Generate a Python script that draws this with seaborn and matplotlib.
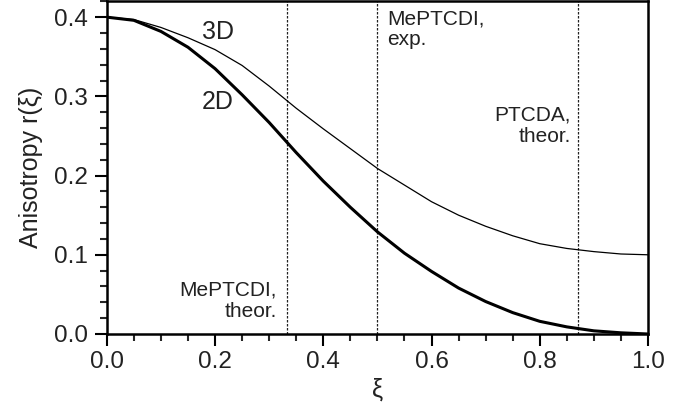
import matplotlib
matplotlib.use("Agg")
import matplotlib.pyplot as plt
import seaborn as sns
import pandas as pd
from matplotlib.ticker import MultipleLocator, FormatStrFormatter

# reduced transition-dipole variable
xi = [0.00, 0.05, 0.10, 0.15, 0.20, 0.25, 0.30, 0.35, 0.40, 0.45, 0.50,
      0.55, 0.60, 0.65, 0.70, 0.75, 0.80, 0.85, 0.90, 0.95, 1.00]
# anisotropy, planar (2D) orientation distribution
r_2d = [0.400, 0.396, 0.382, 0.362, 0.335, 0.302, 0.267, 0.229, 0.193, 0.160, 0.129,
        0.102, 0.079, 0.058, 0.041, 0.027, 0.016, 0.009, 0.004, 0.0015, 0.000]
# anisotropy, isotropic (3D) orientation distribution
r_3d = [0.400, 0.397, 0.387, 0.374, 0.359, 0.339, 0.313, 0.285, 0.259, 0.234, 0.209,
        0.188, 0.167, 0.150, 0.136, 0.124, 0.114, 0.108, 0.104, 0.101, 0.100]

markers_xi = [1/3, 0.5, 0.87]
marker_labels = ["MePTCDI,\ntheor.", "MePTCDI,\nexp.", "PTCDA,\ntheor."]

df = pd.DataFrame({"xi": xi * 2,
                   "r": r_2d + r_3d,
                   "model": ["2D"] * len(xi) + ["3D"] * len(xi)})

sns.set_theme(style="ticks")
plt.rcParams["font.family"] = ["Liberation Sans", "DejaVu Sans"]

TXT = "#222222"

fig = plt.figure(figsize=(6.73, 4.12), dpi=100)
ax = fig.add_axes([106.8 / 673, 1 - 334 / 412, 541.2 / 673, 332.7 / 412])

sns.lineplot(data=df, x="xi", y="r", hue="model", size="model",
             sizes={"2D": 2.2, "3D": 0.9},
             palette={"2D": "black", "3D": "black"},
             legend=False, ax=ax)

for xv in markers_xi:
    ax.axvline(xv, color="#222222", lw=0.9, ls=(0, (2.0, 1.2)), zorder=1)

ax.set_xlim(0, 1.0)
ax.set_ylim(0, 0.42)
ax.xaxis.set_major_locator(MultipleLocator(0.2))
ax.xaxis.set_minor_locator(MultipleLocator(0.05))
ax.yaxis.set_major_locator(MultipleLocator(0.1))
ax.yaxis.set_minor_locator(MultipleLocator(0.02))
ax.xaxis.set_major_formatter(FormatStrFormatter("%.1f"))
ax.yaxis.set_major_formatter(FormatStrFormatter("%.1f"))

for s in ax.spines.values():
    s.set_linewidth(1.8)
    s.set_color("black")
    s.set_visible(True)

ax.tick_params(which="major", direction="out", length=8.5, width=1.5,
               labelsize=17.5, colors="black", labelcolor=TXT,
               top=False, right=False)
ax.tick_params(axis="x", which="major", pad=4)
ax.tick_params(axis="y", which="major", pad=5)
ax.tick_params(which="minor", direction="out", length=5, width=1.5,
               top=False, right=False)

ax.set_xlabel("ξ", fontsize=18, color=TXT, labelpad=3)
ax.set_ylabel("Anisotropy r(ξ)", fontsize=18, color=TXT, labelpad=8)

ax.text(0.175, 0.381, "3D", fontsize=18, color=TXT, va="center", ha="left")
ax.text(0.175, 0.293, "2D", fontsize=18, color=TXT, va="center", ha="left")

ax.text(0.518, 0.410, marker_labels[1], fontsize=15, color=TXT,
        va="top", ha="left", linespacing=1.15)
ax.text(0.857, 0.288, marker_labels[2], fontsize=15, color=TXT,
        va="top", ha="right", multialignment="right", linespacing=1.15)
ax.text(0.314, 0.067, marker_labels[0], fontsize=15, color=TXT,
        va="top", ha="right", multialignment="right", linespacing=1.15)

fig.savefig("out.png", dpi=100)
